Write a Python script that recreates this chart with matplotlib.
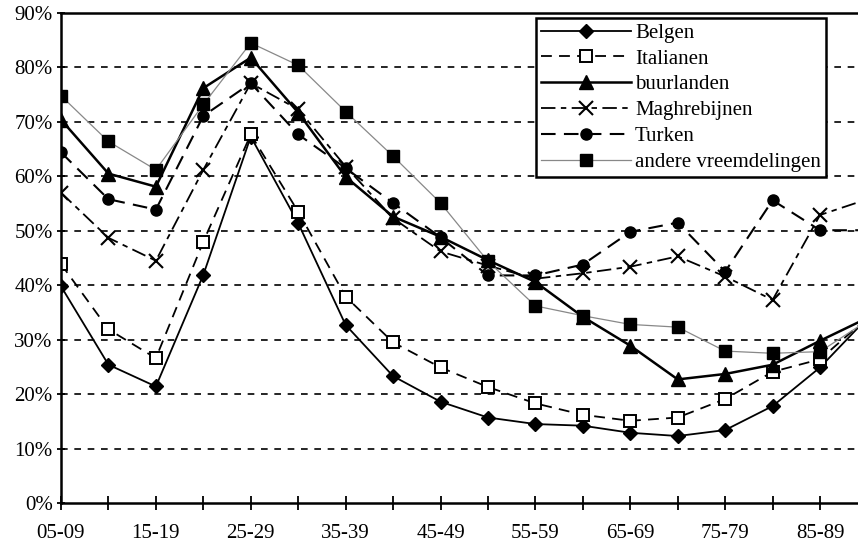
import matplotlib
matplotlib.use("Agg")
import matplotlib.pyplot as plt
from matplotlib.ticker import FuncFormatter, MultipleLocator

plt.rcParams["font.family"] = ["Liberation Serif", "DejaVu Serif"]

# age groups (the last one is cut off at the right edge in the original)
groups = ["05-09", "10-14", "15-19", "20-24", "25-29", "30-34", "35-39", "40-44",
          "45-49", "50-54", "55-59", "60-64", "65-69", "70-74", "75-79", "80-84",
          "85-89", "90-94"]

belgen = [39.8, 25.4, 21.4, 41.9, 67.3, 51.4, 32.7, 23.3, 18.6, 15.7, 14.5,
          14.2, 12.9, 12.3, 13.4, 17.8, 24.9, 34.0]
italianen = [43.9, 31.9, 26.6, 48.0, 67.7, 53.5, 37.9, 29.5, 24.9, 21.3, 18.3,
             16.2, 15.1, 15.7, 19.1, 24.1, 26.4, 34.0]
buurlanden = [70.4, 60.5, 58.1, 76.2, 81.8, 71.7, 59.9, 52.6, 48.9, 44.6, 40.6,
              34.2, 28.9, 22.7, 23.7, 25.4, 29.8, 34.0]
maghrebijnen = [57.0, 48.7, 44.5, 61.2, 77.1, 72.3, 61.8, 52.3, 46.2, 43.6, 41.2,
                42.2, 43.4, 45.3, 41.6, 37.3, 52.9, 55.8]
turken = [64.4, 55.8, 53.9, 71.1, 77.1, 67.7, 61.5, 55.1, 48.8, 41.8, 41.8,
          43.8, 49.8, 51.5, 42.5, 55.6, 50.1, 50.1]
andere = [74.8, 66.4, 61.2, 73.2, 84.5, 80.4, 71.9, 63.7, 55.1, 44.4, 36.2,
          34.4, 32.8, 32.3, 27.9, 27.5, 27.8, 33.5]

fig = plt.figure(figsize=(8.58, 5.48), dpi=100)
ax = fig.add_axes([61 / 858, 1 - 503 / 548, 1 - 61 / 858, (503 - 13) / 548])

x = list(range(len(groups)))
ax.plot(x, belgen, color="black", lw=1.3, ls="-", marker="D", ms=7,
        mfc="black", mec="black", label="Belgen")
ax.plot(x, italianen, color="black", lw=1.3, ls=(0, (6, 4)), marker="s", ms=9,
        mfc="white", mec="black", mew=1.4, label="Italianen")
ax.plot(x, buurlanden, color="black", lw=1.8, ls="-", marker="^", ms=10,
        mfc="black", mec="black", label="buurlanden")
ax.plot(x, maghrebijnen, color="black", lw=1.3, ls=(0, (8, 3, 3, 3)), marker="x",
        ms=10, mew=1.5, mec="black", label="Maghrebijnen")
ax.plot(x, turken, color="black", lw=1.5, ls=(0, (7, 4)), marker="o", ms=8,
        mfc="black", mec="black", label="Turken")
ax.plot(x, andere, color="#888888", lw=0.9, ls="-", marker="s", ms=9,
        mfc="black", mec="black", label="andere vreemdelingen")

ax.set_xlim(0, 16.8)
ax.set_ylim(0, 90)
ax.yaxis.set_major_locator(MultipleLocator(10))
ax.yaxis.set_major_formatter(FuncFormatter(lambda v, p: f"{v:.0f}%"))
ax.set_xticks(x[:-1])
ax.set_xticklabels([g if i % 2 == 0 else "" for i, g in enumerate(groups[:-1])])
ax.tick_params(axis="x", direction="inout", length=10, width=1.3, labelsize=15, pad=10)
ax.tick_params(axis="y", direction="inout", length=6, width=1.3, labelsize=15, pad=3)

for yv in range(10, 90, 10):
    ax.axhline(yv, color="black", lw=1.2, ls=(0, (4, 4)), zorder=0)

ax.spines["right"].set_visible(False)
for s in ("left", "bottom", "top"):
    ax.spines[s].set_linewidth(1.8)

leg = ax.legend(loc="upper left", bbox_to_anchor=(536 / 858, 1 - 18 / 548),
                bbox_transform=fig.transFigure, fontsize=15, handlelength=4.3,
                frameon=True, fancybox=False, borderpad=0.25, labelspacing=0.3,
                handletextpad=0.2, borderaxespad=0)
leg.get_frame().set_edgecolor("black")
leg.get_frame().set_linewidth(1.8)
leg.get_frame().set_alpha(1)

fig.savefig("out.png", dpi=100)
